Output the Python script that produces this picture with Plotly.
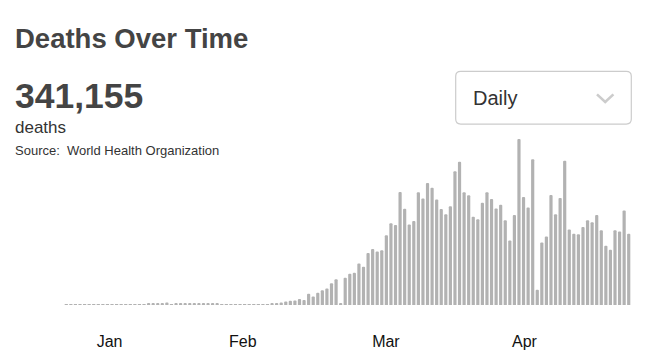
import plotly.graph_objects as go

# ---- data ----
day_index = list(range(124))
daily_deaths = [
    10, 15, 10, 20, 15, 20, 25, 20, 30, 25, 30,
    40, 45, 50, 45, 55, 60, 60, 65, 70, 75, 80,
    150, 30,
    70, 75, 70, 80, 75, 70, 80, 75, 70,
    110,
    30, 25, 30, 20, 25, 30,
    45, 50, 55, 50, 60, 65,
    120, 150, 210, 260, 280, 370, 300, 680, 520, 750, 900, 1000, 1320, 1570, 80,
    1660, 1900, 1960, 2520, 2320, 3160, 3400, 3240, 3320, 4240,
    4960, 4860, 6860, 5840, 4880, 5100, 6840, 6460, 7400, 7120,
    6400, 5820, 5500, 6000, 8120, 8700, 6840, 6660, 5360, 5200,
    6200, 6840, 6440, 5860, 6080, 5140, 3920, 5460, 10080, 6560,
    5920, 8840, 920, 3800, 4160, 6680, 5500, 6500, 8760, 4580,
    4320, 4300, 4740, 5140, 5020, 5460, 4540, 3600, 3360, 4540,
    4460, 5740, 4320,
]
month_labels = ["Jan", "Feb", "Mar", "Apr"]
month_tick_pos = [9.46, 38.6, 69.9, 100.2]

title_text = "Deaths Over Time"
total_text = "341,155"
unit_text = "deaths"
source_text = "Source:\u00a0 World Health Organization"
dropdown_text = "Daily"

# ---- layout geometry (page pixels; the page body adds an 8px margin) ----
OFF = 8
W, H = 640, 354
# plot area in page pixels: x 64..631, y 130..307
ML, MT = 64 - OFF, 130 - OFF
MR = W - (631 - OFF)
MB = H - (307 - OFF)
PW = W - ML - MR
PH = H - MT - MB


def px(x):
    return (x - OFF - ML) / PW


def py(y):
    return (H - MB - (y - OFF)) / PH


FONT = "Liberation Sans, Arial, Helvetica, sans-serif"

fig = go.Figure(
    go.Bar(
        x=day_index,
        y=daily_deaths,
        marker=dict(color="#b2b2b2", cornerradius=1.5, line=dict(width=0)),
        hoverinfo="skip",
    )
)

ann = []


def add_text(text, x, y, size, color, bold=False):
    ann.append(
        dict(
            text=f"<b>{text}</b>" if bold else text,
            x=px(x), y=py(y), xref="paper", yref="paper",
            xanchor="left", yanchor="middle", showarrow=False,
            font=dict(family=FONT, size=size, color=color),
        )
    )


add_text(title_text, 12.5, 37.7, 27.5, "#444444", bold=True)
add_text(total_text, 12.5, 95.3, 35.5, "#444444", bold=True)
add_text(unit_text, 13, 127, 17, "#333333")
add_text(source_text, 13, 151, 13, "#333333")
add_text(dropdown_text, 470.5, 97.5, 20, "#333333")

# rounded dropdown box
x0, x1, y0, y1, r = 455.7, 631.3, 70.7, 124.0, 5
box = (
    f"M {px(x0 + r)},{py(y0)} L {px(x1 - r)},{py(y0)} "
    f"Q {px(x1)},{py(y0)} {px(x1)},{py(y0 + r)} "
    f"L {px(x1)},{py(y1 - r)} Q {px(x1)},{py(y1)} {px(x1 - r)},{py(y1)} "
    f"L {px(x0 + r)},{py(y1)} Q {px(x0)},{py(y1)} {px(x0)},{py(y1 - r)} "
    f"L {px(x0)},{py(y0 + r)} Q {px(x0)},{py(y0)} {px(x0 + r)},{py(y0)} Z"
)
chev = f"M {px(597)},{py(94)} L {px(605.2)},{py(101.6)} L {px(613.4)},{py(94)}"

fig.update_layout(
    width=W, height=H,
    margin=dict(l=ML, r=MR, t=MT, b=MB, pad=0),
    paper_bgcolor="white", plot_bgcolor="white",
    showlegend=False,
    bargap=0.3,
    annotations=ann,
    shapes=[
        dict(type="path", path=box, xref="paper", yref="paper",
             line=dict(color="#cccccc", width=1.2), fillcolor="white", layer="below"),
        dict(type="path", path=chev, xref="paper", yref="paper",
             line=dict(color="#cccccc", width=2.6)),
    ],
    xaxis=dict(
        range=[-0.5, 123.5], showgrid=False, zeroline=False, showline=False,
        tickmode="array", tickvals=month_tick_pos, ticktext=month_labels,
        ticks="outside", ticklen=22, tickcolor="rgba(0,0,0,0)",
        tickfont=dict(family=FONT, size=16, color="#111111"),
        fixedrange=True,
    ),
    yaxis=dict(
        range=[0, PH * 60], visible=False, showgrid=False, zeroline=False,
        fixedrange=True,
    ),
)

fig.write_html("out.html", config={"displayModeBar": False})
